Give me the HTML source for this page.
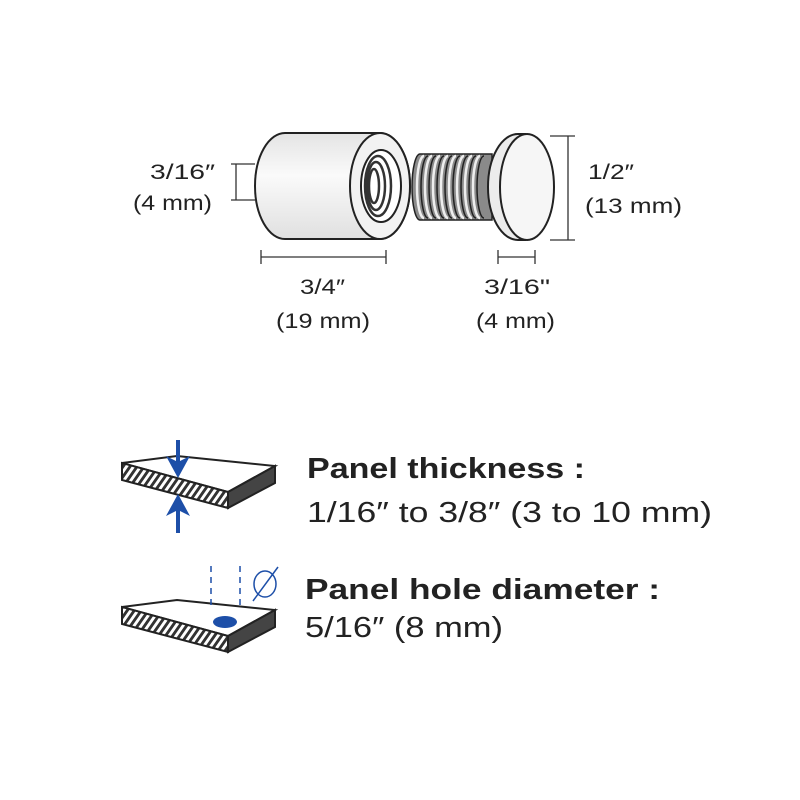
<!DOCTYPE html>
<html><head><meta charset="utf-8"><style>
html,body{margin:0;padding:0;background:#fff;}
svg{display:block;}
text{font-family:"Liberation Sans",sans-serif;fill:#222;}
</style></head><body>
<svg width="800" height="800" viewBox="0 0 800 800" xmlns="http://www.w3.org/2000/svg">
<defs>
<linearGradient id="cyl" x1="0" y1="0" x2="0" y2="1">
<stop offset="0" stop-color="#e4e4e4"/><stop offset="0.4" stop-color="#fafafa"/><stop offset="1" stop-color="#e0e0e0"/>
</linearGradient>
<pattern id="hatch" width="7" height="20" patternUnits="userSpaceOnUse" patternTransform="skewX(-35)">
<rect width="7" height="20" fill="#fff"/><rect width="3.5" height="20" fill="#333"/>
</pattern>
</defs>
<path d="M285,133 L380,133 A30,53 0 0 1 380,239 L285,239 A30,53 0 0 1 285,133 Z" fill="url(#cyl)" stroke="#222" stroke-width="2"/>
<ellipse cx="380" cy="186" rx="30" ry="53" fill="#f2f2f2" stroke="#222" stroke-width="2"/>
<ellipse cx="381" cy="186" rx="20" ry="36" fill="#fff" stroke="#222" stroke-width="2"/>
<g fill="none" stroke="#333" stroke-width="2.5">
<ellipse cx="378" cy="186" rx="13" ry="30"/><ellipse cx="376" cy="186" rx="9" ry="24"/><ellipse cx="374" cy="186" rx="5" ry="17"/>
</g>
<path d="M420,154 L492,154 L492,220 L420,220 A8,33 0 0 1 420,154 Z" fill="#8a8a8a" stroke="#222" stroke-width="1.5"/>
<g fill="none">
<g stroke="#eee" stroke-width="2.5">
<path d="M424,156 A7,31 0 0 0 424,218"/><path d="M432,156 A7,31 0 0 0 432,218"/><path d="M440,156 A7,31 0 0 0 440,218"/><path d="M448,156 A7,31 0 0 0 448,218"/><path d="M456,156 A7,31 0 0 0 456,218"/><path d="M464,156 A7,31 0 0 0 464,218"/><path d="M472,156 A7,31 0 0 0 472,218"/><path d="M480,156 A7,31 0 0 0 480,218"/>
</g>
<g stroke="#222" stroke-width="1.5">
<path d="M428,156 A7,31 0 0 0 428,218"/><path d="M436,156 A7,31 0 0 0 436,218"/><path d="M444,156 A7,31 0 0 0 444,218"/><path d="M452,156 A7,31 0 0 0 452,218"/><path d="M460,156 A7,31 0 0 0 460,218"/><path d="M468,156 A7,31 0 0 0 468,218"/><path d="M476,156 A7,31 0 0 0 476,218"/><path d="M484,156 A7,31 0 0 0 484,218"/>
</g>
</g>
<path d="M518,134 L525,134 L525,240 L518,240 A30,53 0 0 1 518,134 Z" fill="#ececec" stroke="#222" stroke-width="2"/>
<ellipse cx="527" cy="187" rx="27" ry="53" fill="#f6f6f6" stroke="#222" stroke-width="2"/>
<g stroke="#333" stroke-width="1.3" fill="none">
<line x1="231" y1="164" x2="255" y2="164"/><line x1="231" y1="200" x2="255" y2="200"/><line x1="236" y1="164" x2="236" y2="200"/>
<line x1="261" y1="250" x2="261" y2="264"/><line x1="386" y1="250" x2="386" y2="264"/><line x1="261" y1="257" x2="386" y2="257"/>
<line x1="498" y1="250" x2="498" y2="264"/><line x1="535" y1="250" x2="535" y2="264"/><line x1="498" y1="257" x2="535" y2="257"/>
<line x1="550" y1="136" x2="575" y2="136"/><line x1="550" y1="240" x2="575" y2="240"/><line x1="568" y1="136" x2="568" y2="240"/>
</g>
<g font-size="21">
<text x="150" y="179" textLength="65" lengthAdjust="spacingAndGlyphs">3/16″</text>
<text x="133" y="210" textLength="79" lengthAdjust="spacingAndGlyphs">(4 mm)</text>
<text x="300" y="294" textLength="45" lengthAdjust="spacingAndGlyphs">3/4″</text>
<text x="276" y="328" textLength="94" lengthAdjust="spacingAndGlyphs">(19 mm)</text>
<text x="484" y="294" textLength="66" lengthAdjust="spacingAndGlyphs">3/16"</text>
<text x="476" y="328" textLength="79" lengthAdjust="spacingAndGlyphs">(4 mm)</text>
<text x="588" y="179" textLength="46" lengthAdjust="spacingAndGlyphs">1/2″</text>
<text x="585" y="213" textLength="97" lengthAdjust="spacingAndGlyphs">(13 mm)</text>
</g>
<polygon points="122,463 177,456 275,466 228,492" fill="#fff" stroke="#222" stroke-width="2"/>
<polygon points="122,463 228,492 228,508 122,480" fill="url(#hatch)" stroke="#222" stroke-width="2"/>
<polygon points="228,492 275,466 275,483 228,508" fill="#444" stroke="#222" stroke-width="2"/>
<g fill="#1d4fa8" stroke="#1d4fa8">
<line x1="178" y1="440" x2="178" y2="465" stroke-width="4"/>
<polygon points="166,456 178,462 190,456 178,478" stroke="none"/>
<line x1="178" y1="505" x2="178" y2="533" stroke-width="4"/>
<polygon points="166,516 178,510 190,516 178,494" stroke="none"/>
</g>
<polygon points="122,607 177,600 275,610 228,636" fill="#fff" stroke="#222" stroke-width="2"/>
<polygon points="122,607 228,636 228,652 122,624" fill="url(#hatch)" stroke="#222" stroke-width="2"/>
<polygon points="228,636 275,610 275,627 228,652" fill="#444" stroke="#222" stroke-width="2"/>
<ellipse cx="225" cy="622" rx="12" ry="6" fill="#1d4fa8"/>
<g stroke="#1d4fa8" stroke-width="1.5" fill="none">
<line x1="211" y1="566" x2="211" y2="608" stroke-dasharray="6,5"/>
<line x1="240" y1="566" x2="240" y2="608" stroke-dasharray="6,5"/>
<ellipse cx="265" cy="584" rx="11" ry="13"/>
<line x1="253" y1="601" x2="278" y2="567"/>
</g>
<text x="307" y="478" font-size="29" font-weight="bold" textLength="278" lengthAdjust="spacingAndGlyphs">Panel thickness :</text>
<text x="307" y="522" font-size="29" textLength="405" lengthAdjust="spacingAndGlyphs">1/16″ to 3/8″ (3 to 10 mm)</text>
<text x="305" y="599" font-size="29" font-weight="bold" textLength="355" lengthAdjust="spacingAndGlyphs">Panel hole diameter :</text>
<text x="305" y="637" font-size="29" textLength="198" lengthAdjust="spacingAndGlyphs">5/16″ (8 mm)</text>
</svg>
</body></html>
